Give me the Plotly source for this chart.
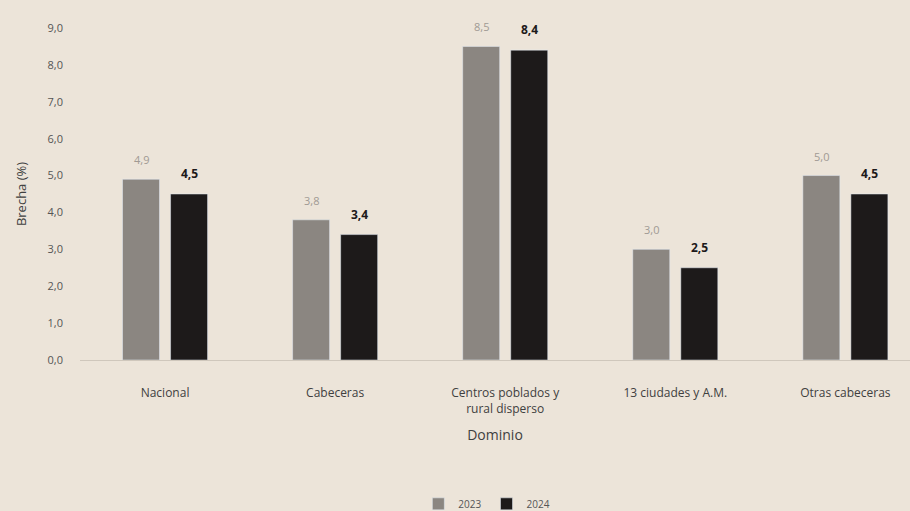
import plotly.graph_objects as go

# Brecha por dominio, 2023 vs 2024
dominios = ["Nacional", "Cabeceras", "Centros poblados y<br>rural disperso",
            "13 ciudades y A.M.", "Otras cabeceras"]
brecha_2023 = [4.9, 3.8, 8.5, 3.0, 5.0]
brecha_2024 = [4.5, 3.4, 8.4, 2.5, 4.5]
y_ticks = [0, 1, 2, 3, 4, 5, 6, 7, 8, 9]

BG = "#ece4d9"
GRAY = "#8b8681"
BLACK = "#1d1a1a"
FONT = "Open Sans, Noto Sans, sans-serif"

BARGAP = 0.435
BARGROUPGAP = 0.23
CAT_PX = 170  # pixel width of one category on the x axis


def fmt(v):
    return f"{v:.1f}".replace(".", ",")


fig = go.Figure()
fig.add_trace(go.Bar(name="2023", x=dominios, y=brecha_2023, marker_color=GRAY))
fig.add_trace(go.Bar(name="2024", x=dominios, y=brecha_2024, marker_color=BLACK))

# value labels above each bar, offset to the centre of its slot in the group
slot_offset = CAT_PX * (1 - BARGAP) / 4
for d, v in zip(dominios, brecha_2023):
    fig.add_annotation(x=d, y=v, text=fmt(v), showarrow=False,
                       xshift=-slot_offset, yshift=10, yanchor="bottom",
                       font=dict(family=FONT, size=11, color="#a09a94"))
for d, v in zip(dominios, brecha_2024):
    fig.add_annotation(x=d, y=v, text=f"<b>{fmt(v)}</b>", showarrow=False,
                       xshift=slot_offset, yshift=10, yanchor="bottom",
                       font=dict(family=FONT, size=12, color="#1d1a1a"))

fig.update_layout(
    width=910, height=511,
    margin=dict(l=80, r=0, t=28, b=151),
    paper_bgcolor=BG, plot_bgcolor=BG,
    barmode="group", bargap=BARGAP, bargroupgap=BARGROUPGAP,
    separators=",.",
    font=dict(family=FONT, color="#444"),
    showlegend=True,
    legend=dict(orientation="h", xref="container", yref="container",
                x=0.535, y=0.014, xanchor="center", yanchor="middle",
                font=dict(size=10, color="#555"), itemwidth=30,
                bgcolor="rgba(0,0,0,0)"),
    xaxis=dict(
        range=[-0.5, 4.38], showgrid=False, showline=True,
        linecolor="#cfc7bc", linewidth=1, ticks="",
        ticklabelstandoff=22,
        tickfont=dict(family=FONT, size=12, color="#404040"),
        title=dict(text="Dominio", standoff=14,
                   font=dict(family=FONT, size=14, color="#404040")),
    ),
    yaxis=dict(
        range=[0, 9], tickvals=y_ticks, tickformat=".1f",
        showgrid=False, zeroline=False, showline=False,
        ticklabelstandoff=16,
        tickfont=dict(family=FONT, size=11, color="#555"),
        title=dict(text="Brecha (%)", standoff=18,
                   font=dict(family=FONT, size=13, color="#404040")),
    ),
)

fig.write_html("out.html")
